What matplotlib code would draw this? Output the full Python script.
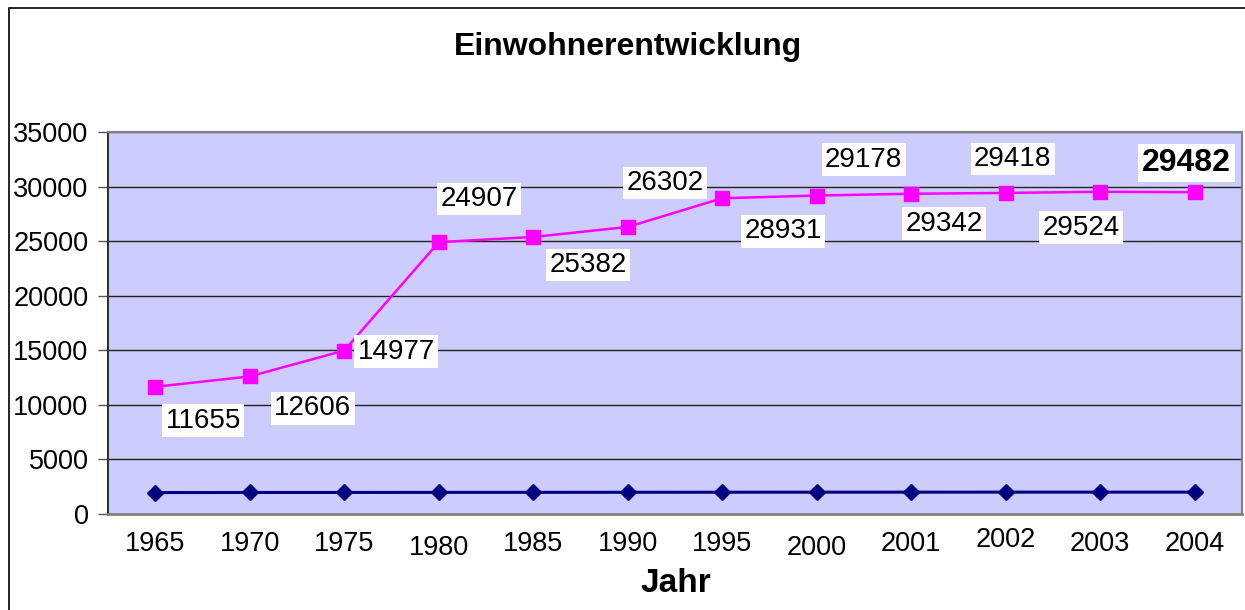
import matplotlib
matplotlib.use("Agg")
import matplotlib.pyplot as plt
import matplotlib.transforms as mtransforms
from matplotlib.patches import Rectangle

categories = ["1965", "1970", "1975", "1980", "1985", "1990", "1995", "2000", "2001", "2002", "2003", "2004"]
einwohner = [11655, 12606, 14977, 24907, 25382, 26302, 28931, 29178, 29342, 29418, 29524, 29482]
jahr_werte = [1965, 1970, 1975, 1980, 1985, 1990, 1995, 2000, 2001, 2002, 2003, 2004]
y_ticks = [0, 5000, 10000, 15000, 20000, 25000, 30000, 35000]

plt.rcParams['font.family'] = ['Liberation Sans', 'DejaVu Sans']

fig = plt.figure(figsize=(12.45, 6.1), dpi=100)
fig.patch.set_facecolor('white')
fig.patches.append(Rectangle((9/1245, -0.01), 1.0, 1 - 8/610 + 0.01, transform=fig.transFigure,
                             fill=False, edgecolor='black', linewidth=1.2, zorder=0))

ax = fig.add_axes([108/1245, 1 - 514/610, (1242-108)/1245, (514-132)/610])
ax.set_facecolor('#CCCCFF')
x = list(range(len(categories)))

ax.plot(x, jahr_werte, color='#000080', linewidth=2.2, marker='D', markersize=8,
        markerfacecolor='#000080', markeredgecolor='#000080', zorder=3)
ax.plot(x, einwohner, color='#FF00FF', linewidth=1.8, marker='s', markersize=10,
        markerfacecolor='#FF00FF', markeredgecolor='#FF00FF', zorder=4)

ax.set_xlim(-0.5, len(categories) - 0.5)
ax.set_ylim(0, 35000)
ax.set_yticks(y_ticks)
ax.set_yticklabels([str(v) for v in y_ticks])
ax.yaxis.grid(True, color='#222222', linewidth=1.0)
ax.set_axisbelow(True)
ax.tick_params(axis='y', direction='out', length=7, width=1, color='#555555', labelsize=19.5, pad=7)
ax.set_xticks(x)
ax.set_xticklabels(categories)
ax.tick_params(axis='x', length=0, labelsize=19.5, pad=12)
for s in ['top', 'right']:
    ax.spines[s].set_color('#808080')
    ax.spines[s].set_linewidth(1.5)
ax.spines['left'].set_color('#333333')
ax.spines['left'].set_linewidth(1.5)
ax.spines['bottom'].set_color('#808080')
ax.spines['bottom'].set_linewidth(2)

# staggered x tick labels
label_dy = {"1980": -4, "2000": -4, "2002": 4}
for lbl in ax.get_xticklabels():
    dy = label_dy.get(lbl.get_text(), 0)
    if dy:
        off = mtransforms.ScaledTranslation(0, dy / 100.0, fig.dpi_scale_trans)
        lbl.set_transform(lbl.get_transform() + off)

# data labels
offsets = [(48, -34), (63, -32), (52, -1), (40, 43), (55, -28), (37, 44),
           (61, -33), (47, 36), (33, -30), (7, 34), (-19, -36), (-8, 29)]
for i, (v, (dx, dy)) in enumerate(zip(einwohner, offsets)):
    last = i == len(einwohner) - 1
    ax.annotate(str(v), (x[i], v), xytext=(dx, dy), textcoords='offset pixels',
                ha='center', va='center', fontsize=23 if last else 20,
                fontweight='bold' if last else 'normal',
                bbox=dict(boxstyle='square,pad=0.12', facecolor='white', edgecolor='none'),
                zorder=6, annotation_clip=False)

fig.text(628/1245, 1 - 47/610, "Einwohnerentwicklung", ha='center', va='center',
         fontsize=23, fontweight='bold')
fig.text(676/1245, 1 - 583/610, "Jahr", ha='center', va='center',
         fontsize=24, fontweight='bold')

fig.savefig("out.png", dpi=100)
